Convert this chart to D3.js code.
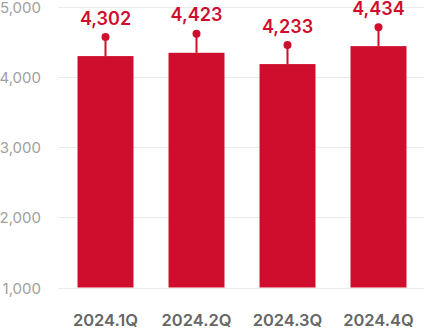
<!DOCTYPE html>
<html lang="en">
<head>
<meta charset="utf-8">
<script src="https://cdnjs.cloudflare.com/ajax/libs/d3/7.8.5/d3.min.js"></script>
<style>
body { margin: 0; background: #fff; }
svg { display: block; font-family: Inter, "Noto Sans", sans-serif; }
.grid line { stroke: #ebebeb; stroke-width: 1; }
.y-label { fill: #a0a0a0; font-size: 15px; }
.x-label { fill: #666; font-size: 16.5px; font-weight: 600; }
.bar { fill: #cf0e2d; }
.stem { stroke: #cf0e2d; stroke-width: 2; }
.dot { fill: #cf0e2d; }
.value { fill: #cf0e2d; font-size: 18px; font-weight: 600; }
</style>
</head>
<body>
<div id="chart"></div>
<script>
const w = 424;
const h = 328;

// quarters, bar heights as drawn and the printed totals
const quarters = ["2024.1Q", "2024.2Q", "2024.3Q", "2024.4Q"];
const barValues = [4300, 4347, 4186, 4442];
const labelValues = [4302, 4423, 4233, 4434];
const yTicks = [1000, 2000, 3000, 4000, 5000];

const data = quarters.map((q, i) => ({ q: q, bar: barValues[i], label: labelValues[i] }));

const xScale = d3.scaleBand()
   .domain(quarters)
   .range([60, 424])
   .paddingInner(0.385)
   .paddingOuter(0.1925);

const yScale = d3.scaleLinear()
   .domain([1000, 5000])
   .range([287.5, 7]);

const svg = d3.select("#chart")
   .append("svg")
   .attr("width", w)
   .attr("height", h);

// gridlines
svg.append("g")
   .attr("class", "grid")
   .selectAll("line")
   .data(yTicks)
   .enter()
   .append("line")
   .attr("x1", 58)
   .attr("x2", w)
   .attr("y1", d => Math.round(yScale(d)) + 0.5)
   .attr("y2", d => Math.round(yScale(d)) + 0.5);

svg.selectAll(".y-label")
   .data(yTicks)
   .enter()
   .append("text")
   .attr("class", "y-label")
   .attr("x", 41)
   .attr("y", d => yScale(d) + 6)
   .attr("text-anchor", "end")
   .text(d => d3.format(",")(d));

svg.selectAll(".bar")
   .data(data)
   .enter()
   .append("rect")
   .attr("class", "bar")
   .attr("x", d => xScale(d.q))
   .attr("width", xScale.bandwidth())
   .attr("y", d => yScale(d.bar))
   .attr("height", d => yScale(1000) - yScale(d.bar));

// little pin above each bar
const stemLen = 19;
svg.selectAll(".stem")
   .data(data)
   .enter()
   .append("line")
   .attr("class", "stem")
   .attr("x1", d => xScale(d.q) + xScale.bandwidth() / 2)
   .attr("x2", d => xScale(d.q) + xScale.bandwidth() / 2)
   .attr("y1", d => yScale(d.bar))
   .attr("y2", d => yScale(d.bar) - stemLen);

svg.selectAll(".dot")
   .data(data)
   .enter()
   .append("circle")
   .attr("class", "dot")
   .attr("r", 4)
   .attr("cx", d => xScale(d.q) + xScale.bandwidth() / 2)
   .attr("cy", d => yScale(d.bar) - stemLen);

svg.selectAll(".value")
   .data(data)
   .enter()
   .append("text")
   .attr("class", "value")
   .attr("x", d => xScale(d.q) + xScale.bandwidth() / 2)
   .attr("y", d => yScale(d.bar) - stemLen - 12.5)
   .attr("text-anchor", "middle")
   .text(d => d3.format(",")(d.label));

svg.selectAll(".x-label")
   .data(quarters)
   .enter()
   .append("text")
   .attr("class", "x-label")
   .attr("x", d => xScale(d) + xScale.bandwidth() / 2)
   .attr("y", 325.5)
   .attr("text-anchor", "middle")
   .text(d => d);
</script>
</body>
</html>
